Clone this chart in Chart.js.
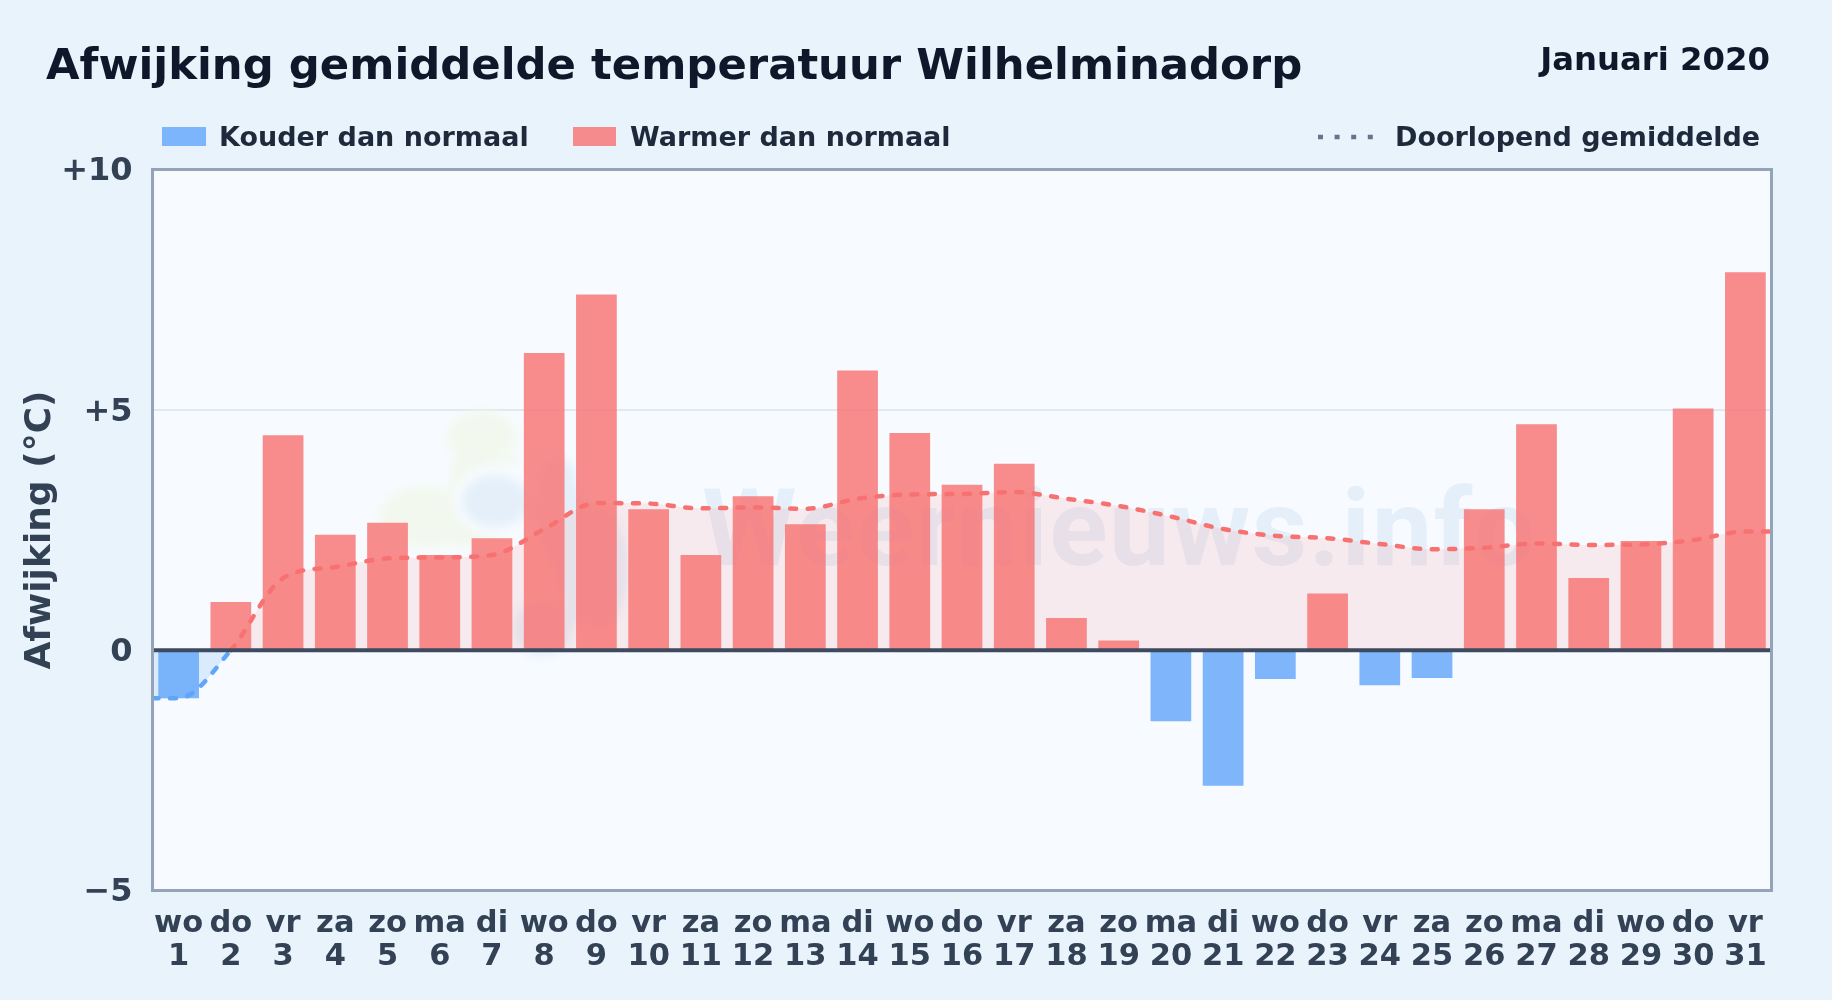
<!DOCTYPE html>
<html>
<head>
<meta charset="utf-8">
<script src="https://cdn.jsdelivr.net/npm/chart.js@4"></script>
<style>
  html, body { margin: 0; padding: 0; background: #e8f3fc; }
  #wrap { position: relative; width: 1832px; height: 1000px; overflow: hidden; }
  canvas { position: absolute; left: 0; top: 0; }
</style>
</head>
<body>
<div id="wrap"><canvas id="myChart" width="1832" height="1000"></canvas></div>
<script>
const weekdays = ["wo","do","vr","za","zo","ma","di","wo","do","vr","za","zo","ma","di","wo","do","vr","za","zo","ma","di","wo","do","vr","za","zo","ma","di","wo","do","vr"];
const days = [1,2,3,4,5,6,7,8,9,10,11,12,13,14,15,16,17,18,19,20,21,22,23,24,25,26,27,28,29,30,31];
const deviation = [-1.0,1.0,4.47,2.4,2.65,1.98,2.33,6.18,7.4,2.93,1.98,3.2,2.62,5.82,4.52,3.44,3.88,0.67,0.2,-1.48,-2.82,-0.6,1.18,-0.73,-0.58,2.93,4.7,1.5,2.27,5.03,7.86];
const runningX = [0.5,1,2,3,4,5,6,7,8,9,10,11,12,13,14,15,16,17,18,19,20,21,22,23,24,25,26,27,28,29,30,31,31.5];
const runningMean = [-1.0,-1.0,0.0,1.5,1.73,1.91,1.93,1.98,2.52,3.06,3.05,2.95,2.97,2.94,3.15,3.24,3.25,3.29,3.15,3.0,2.78,2.52,2.38,2.33,2.21,2.1,2.13,2.22,2.19,2.2,2.29,2.47,2.47];
const yTicks = {10:"+10",5:"+5",0:"0","-5":"\u22125"};

const FONT = "'DejaVu Sans'";
const RED = "rgba(248,113,113,0.8)";
const BLUE = "rgba(96,165,250,0.8)";

// faint watermark behind the bars: logo blobs and site name
const backdrop = {
  id: "backdrop",
  beforeDatasetsDraw(chart) {
    const a = chart.chartArea, ctx = chart.ctx;
    ctx.save();
    ctx.beginPath();
    ctx.rect(a.left, a.top, a.width, a.height);
    ctx.clip();
    ctx.filter = "blur(5px)";
    ctx.fillStyle = "#f2f8ee";
    ctx.beginPath();
    ctx.ellipse(482, 438, 35, 27, 0, 0, 7);
    ctx.ellipse(470, 475, 20, 30, 0, 0, 7);
    ctx.ellipse(425, 517, 46, 31, 0, 0, 7);
    ctx.ellipse(470, 520, 40, 28, 0, 0, 7);
    ctx.fill();
    ctx.fillStyle = "#f7fbff";
    ctx.beginPath();
    ctx.ellipse(498, 500, 45, 36, 0, 0, 7);
    ctx.fill();
    ctx.fillStyle = "#e4eff9";
    ctx.beginPath();
    ctx.ellipse(495, 501, 33, 26, 0, 0, 7);
    ctx.ellipse(557, 482, 20, 25, 0, 0, 7);
    ctx.ellipse(600, 568, 28, 60, 0, 0, 7);
    ctx.ellipse(543, 628, 30, 28, 0, 0, 7);
    ctx.fill();
    ctx.filter = "none";
    ctx.globalAlpha = 0.11;
    ctx.fillStyle = "#5b8fc8";
    ctx.font = "700 108px Roboto";
    ctx.letterSpacing = "1.5px";
    ctx.textAlign = "left";
    ctx.textBaseline = "alphabetic";
    ctx.fillText("Weernieuws.info", 702, 565);
    ctx.restore();
  },
  afterDatasetsDraw(chart) {
    const a = chart.chartArea, ctx = chart.ctx;
    ctx.save();
    ctx.strokeStyle = "#94a3b8";
    ctx.lineWidth = 3;
    ctx.strokeRect(a.left, a.top, a.width, a.height);
    ctx.restore();
  }
};

// title, period and the legend row
const header = {
  id: "header",
  afterDraw(chart) {
    const ctx = chart.ctx;
    ctx.save();
    ctx.textBaseline = "alphabetic";
    ctx.textAlign = "left";
    ctx.fillStyle = "#0f172a";
    ctx.font = "bold 43.35px " + FONT;
    ctx.fillText("Afwijking gemiddelde temperatuur Wilhelminadorp", 46, 79);
    ctx.textAlign = "right";
    ctx.font = "bold 32.3px " + FONT;
    ctx.fillText("Januari 2020", 1770, 70);

    ctx.fillStyle = "#1e293b";
    ctx.font = "bold 27px " + FONT;
    ctx.textAlign = "left";
    ctx.fillText("Kouder dan normaal", 219, 146);
    ctx.fillText("Warmer dan normaal", 630, 146);
    ctx.fillText("Doorlopend gemiddelde", 1395, 146);
    ctx.fillStyle = BLUE;
    ctx.fillRect(162, 127, 44, 19);
    ctx.fillStyle = RED;
    ctx.fillRect(573, 127, 43, 19);
    ctx.strokeStyle = "#64748b";
    ctx.lineWidth = 4.5;
    ctx.setLineDash([5, 11.6]);
    ctx.beginPath();
    ctx.moveTo(1318, 137);
    ctx.lineTo(1376, 137);
    ctx.stroke();
    ctx.restore();
  }
};

new Chart("myChart", {
  data: {
    labels: days.map((d, i) => [weekdays[i], String(d)]),
    datasets: [
      {
        type: "line",
        xAxisID: "x2",
        data: [{x: 0.5, y: 0}, {x: 31.5, y: 0}],
        borderColor: "#3d4a5f",
        borderWidth: 4,
        pointRadius: 0,
        order: 0,
      },
      {
        type: "line",
        xAxisID: "x2",
        data: runningX.map((x, i) => ({x: x, y: runningMean[i]})),
        borderWidth: 4.5,
        borderColor: "#f87171",
        borderDash: [6, 11.5],
        borderCapStyle: "round",
        cubicInterpolationMode: "monotone",
        pointRadius: 0,
        fill: {target: "origin", above: "rgba(248,113,113,0.12)", below: "rgba(96,165,250,0.18)"},
        segment: {
          borderColor: (c) => (c.p0.parsed.y < 0 ? "#60a5fa" : "#f87171"),
        },
        order: 1,
      },
      {
        type: "bar",
        data: deviation,
        backgroundColor: deviation.map((v) => (v < 0 ? BLUE : RED)),
        grouped: false,
        barPercentage: 0.78,
        categoryPercentage: 1,
        order: 2,
      },
    ],
  },
  options: {
    responsive: false,
    animation: false,
    devicePixelRatio: 1,
    layout: {padding: {top: 169.5, right: 60.5, bottom: 0, left: 0}},
    plugins: {legend: {display: false}, title: {display: false}, tooltip: {enabled: false}},
    scales: {
      x: {
        grid: {display: false},
        border: {display: false},
        afterFit: (s) => { s.height = 109.5; },
        ticks: {
          autoSkip: false,
          maxRotation: 0,
          minRotation: 0,
          padding: 9,
          color: "#334155",
          font: {family: FONT, weight: "bold", size: 30.5, lineHeight: 1.08},
        },
      },
      x2: {type: "linear", min: 0.5, max: 31.5, display: false},
      y: {
        min: -5,
        max: 10,
        afterFit: (s) => { s.width = 152.5; },
        afterBuildTicks: (s) => { s.ticks = [{value: -5}, {value: 0}, {value: 5}, {value: 10}]; },
        border: {display: false},
        grid: {
          drawTicks: false,
          color: (c) => (c.tick.value === 5 ? "#e2e8f0" : "transparent"),
          lineWidth: 2,
        },
        title: {
          display: true,
          text: "Afwijking (\u00b0C)",
          color: "#334155",
          padding: {top: 19, bottom: 0},
          font: {family: FONT, weight: "bold", size: 36},
        },
        ticks: {
          padding: 20,
          labelOffset: 2.5,
          color: "#334155",
          font: {family: FONT, weight: "bold", size: 32},
          callback: (v) => yTicks[v],
        },
      },
    },
  },
  plugins: [
    {id: "plotBg", beforeDraw(chart) {
      const a = chart.chartArea, ctx = chart.ctx;
      ctx.save();
      ctx.fillStyle = "#f7fbff";
      ctx.fillRect(a.left, a.top, a.width, a.height);
      ctx.restore();
    }},
    backdrop,
    header,
  ],
});
</script>
</body>
</html>
